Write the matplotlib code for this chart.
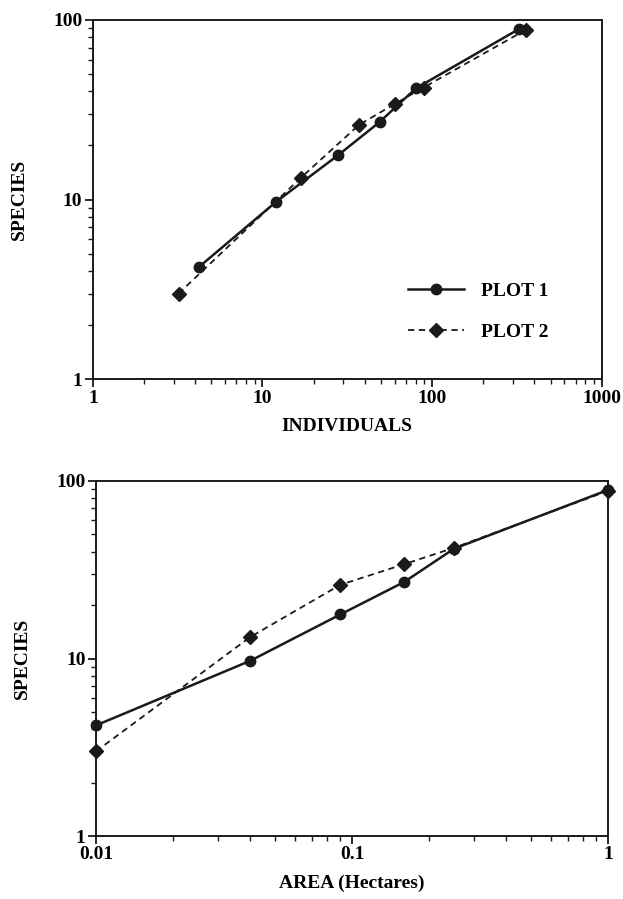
import matplotlib
matplotlib.use("Agg")
import matplotlib.pyplot as plt
from matplotlib.ticker import LogLocator, FixedLocator, FixedFormatter, NullFormatter

# ---- data ----
individuals_plot1 = [4.2, 12, 28, 49, 80, 326]
individuals_plot2 = [3.2, 16.8, 37, 60, 89, 357]
area_hectares = [0.01, 0.04, 0.09, 0.16, 0.25, 1.0]
species_plot1 = [4.2, 9.7, 17.7, 27, 41.5, 89]
species_plot2 = [3.0, 13.2, 26, 34, 42, 88]
series_labels = ["PLOT 1", "PLOT 2"]

top_xticks = [1, 10, 100, 1000]
top_xticklabels = ["1", "10", "100", "1000"]
bottom_xticks = [0.01, 0.1, 1]
bottom_xticklabels = ["0.01", "0.1", "1"]
yticks = [1, 10, 100]
yticklabels = ["1", "10", "100"]

plt.rcParams["font.family"] = ["Liberation Serif", "DejaVu Serif"]
plt.rcParams["font.weight"] = "bold"

fig = plt.figure(figsize=(6.23, 8.99), dpi=100)
ax1 = fig.add_axes([0.149, 0.578, 0.817, 0.400])
ax2 = fig.add_axes([0.154, 0.070, 0.822, 0.395])

ink = "#1a1a1a"
solid_kw = dict(color=ink, lw=1.8, marker="o", ms=7.5, mfc=ink, mec=ink)
dash_kw = dict(color=ink, lw=1.3, marker="D", ms=7.5, mfc=ink, mec=ink, dashes=(3.5, 2.5))

ax1.plot(individuals_plot1, species_plot1, label=series_labels[0], **solid_kw)
ax1.plot(individuals_plot2, species_plot2, label=series_labels[1], **dash_kw)
ax2.plot(area_hectares, species_plot1, label=series_labels[0], **solid_kw)
ax2.plot(area_hectares, species_plot2, label=series_labels[1], **dash_kw)

FS = 14

def style(ax, xlim, xticks, xticklabels, xlabel):
    ax.set_xscale("log")
    ax.set_yscale("log")
    ax.set_xlim(*xlim)
    ax.set_ylim(1, 100)
    ax.xaxis.set_major_locator(FixedLocator(xticks))
    ax.xaxis.set_major_formatter(FixedFormatter(xticklabels))
    ax.yaxis.set_major_locator(FixedLocator(yticks))
    ax.yaxis.set_major_formatter(FixedFormatter(yticklabels))
    ax.xaxis.set_minor_locator(LogLocator(base=10, subs=range(2, 10)))
    ax.yaxis.set_minor_locator(LogLocator(base=10, subs=range(2, 10)))
    ax.xaxis.set_minor_formatter(NullFormatter())
    ax.yaxis.set_minor_formatter(NullFormatter())
    ax.tick_params(which="major", direction="out", length=6, width=1.3,
                   labelsize=FS, pad=1.5, color=ink)
    ax.tick_params(which="minor", direction="out", length=3.5, width=1.0, color=ink)
    for lab in ax.get_xticklabels() + ax.get_yticklabels():
        lab.set_fontweight("bold")
    for s in ax.spines.values():
        s.set_linewidth(1.4)
        s.set_color(ink)
    ax.set_xlabel(xlabel, fontsize=FS, fontweight="bold", labelpad=8)
    ax.set_ylabel("SPECIES", fontsize=FS, fontweight="bold", labelpad=18)

style(ax1, (1, 1000), top_xticks, top_xticklabels, "INDIVIDUALS")
style(ax2, (0.01, 1), bottom_xticks, bottom_xticklabels, "AREA (Hectares)")
for ax in (ax1, ax2):
    for ln in ax.lines:
        ln.set_clip_on(False)

leg = ax1.legend(loc="center left", bbox_to_anchor=(0.619, 0.188), frameon=False,
                 borderpad=0, borderaxespad=0, handlelength=2.9, handletextpad=0.85,
                 labelspacing=1.2, prop={"size": FS, "weight": "bold"})

fig.savefig("out.png", dpi=100)
